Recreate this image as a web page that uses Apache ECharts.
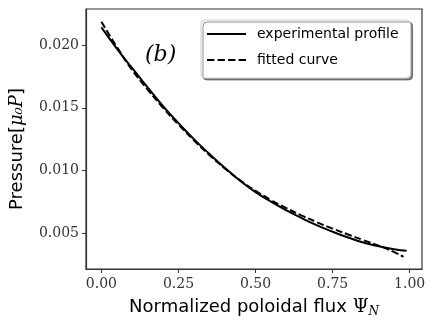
<!DOCTYPE html>
<html>
<head>
<meta charset="utf-8">
<script src="https://cdn.jsdelivr.net/npm/echarts@6/dist/echarts.min.js"></script>
<style>
  html, body { margin: 0; padding: 0; background: #fff; }
  #box { width: 436px; height: 327px; }
</style>
</head>
<body>
<div id="box"></div>
<script>
// normalized poloidal flux (x) and pressure values
const psi = [0, 0.05, 0.10, 0.15, 0.20, 0.25, 0.30, 0.35, 0.40, 0.45, 0.50,
  0.55, 0.60, 0.65, 0.70, 0.75, 0.80, 0.85, 0.90, 0.95, 0.99];
const experimental = [0.02140, 0.01972, 0.01815, 0.01663, 0.01512, 0.01378, 0.01250, 0.01133, 0.01022, 0.00918, 0.00828,
  0.00752, 0.00683, 0.00620, 0.00563, 0.00512, 0.00466, 0.00426, 0.00396, 0.00373, 0.00360];

const psiFit = [0, 0.05, 0.10, 0.15, 0.20, 0.25, 0.30, 0.35, 0.40, 0.45, 0.50,
  0.55, 0.60, 0.65, 0.70, 0.75, 0.80, 0.85, 0.90, 0.95, 0.98];
const fitted = [0.02185, 0.01985, 0.01800, 0.01645, 0.01500, 0.01366, 0.01240, 0.01124, 0.01017, 0.00922, 0.00838,
  0.00765, 0.00700, 0.00641, 0.00587, 0.00537, 0.00490, 0.00445, 0.00400, 0.00350, 0.00312];

const xTicks = [0, 0.25, 0.5, 0.75, 1.0];
const yTicks = [0.005, 0.010, 0.015, 0.020];

let chart = echarts.init(document.getElementById('box'));

let serifFont = 'DejaVu Serif';
let sansFont = 'DejaVu Sans';

let option = {
  animation: false,
  grid: {
    left: 83, right: 14, top: 9, bottom: 58,
    show: true, borderColor: '#333', borderWidth: 1.2
  },
  legend: {
    orient: 'vertical',
    left: 201, top: 20,
    itemWidth: 39, itemHeight: 14, itemGap: 12,
    padding: [7, 12, 11, 6],
    backgroundColor: '#fff',
    borderColor: '#ccc', borderWidth: 1, borderRadius: 4,
    shadowColor: 'rgba(0,0,0,0.45)', shadowBlur: 0, shadowOffsetX: 2, shadowOffsetY: 2,
    itemStyle: { color: '#000' },
    textStyle: { fontFamily: sansFont, fontSize: 14, color: '#000', padding: [0, 0, 0, 6] },
    data: [
      { name: 'experimental profile', icon: 'path://M0,0H39V2H0Z' },
      { name: 'fitted curve', icon: 'path://M0,0H7V2H0Z M10,0H17V2H10Z M20,0H27V2H20Z M30,0H37V2H30Z' }
    ]
  },
  xAxis: {
    type: 'value', min: -0.05, max: 1.04,
    name: '{t|Normalized poloidal flux }{m|Ψ}{s|N}',
    nameLocation: 'middle', nameGap: 27,
    nameTextStyle: {
      rich: {
        t: { fontFamily: sansFont, fontSize: 18, color: '#000' },
        m: { fontFamily: serifFont, fontSize: 18, color: '#000' },
        s: { fontFamily: serifFont, fontStyle: 'italic', fontSize: 12, color: '#000', padding: [10, 0, 0, 0] }
      }
    },
    splitLine: { show: false },
    axisLine: { onZero: false, lineStyle: { color: '#333', width: 1.2 } },
    axisTick: { length: 4, customValues: xTicks, lineStyle: { color: '#333' } },
    axisLabel: {
      customValues: xTicks, margin: 8,
      fontFamily: serifFont, fontSize: 14, color: '#333',
      formatter: v => v.toFixed(2)
    }
  },
  yAxis: {
    type: 'value', min: 0.00215, max: 0.02287,
    name: '{t|Pressure[}{m|μ₀P}{t|]}',
    nameLocation: 'middle', nameGap: 60,
    nameTextStyle: {
      padding: [0, 20, 0, 0],
      rich: {
        t: { fontFamily: sansFont, fontSize: 18, color: '#000' },
        m: { fontFamily: serifFont, fontStyle: 'italic', fontSize: 18, color: '#000' }
      }
    },
    splitLine: { show: false },
    axisLine: { show: true, onZero: false, lineStyle: { color: '#333', width: 1.2 } },
    axisTick: { show: true, length: 4, customValues: yTicks, lineStyle: { color: '#333' } },
    axisLabel: {
      customValues: yTicks, margin: 7,
      fontFamily: serifFont, fontSize: 14, color: '#333',
      formatter: v => v.toFixed(3)
    }
  },
  graphic: [{
    type: 'text', left: 145, top: 44,
    style: { text: '(b)', fontFamily: serifFont, fontStyle: 'italic', fontSize: 22, fill: '#000' }
  }],
  series: [
    {
      name: 'experimental profile', type: 'line', smooth: true, symbol: 'none',
      lineStyle: { color: '#000', width: 2 },
      itemStyle: { color: '#000' },
      data: psi.map((x, i) => [x, experimental[i]])
    },
    {
      name: 'fitted curve', type: 'line', smooth: true, symbol: 'none',
      lineStyle: { color: '#000', width: 2, type: [7, 3] },
      itemStyle: { color: '#000' },
      data: psiFit.map((x, i) => [x, fitted[i]])
    }
  ]
};

chart.setOption(option);
</script>
</body>
</html>
